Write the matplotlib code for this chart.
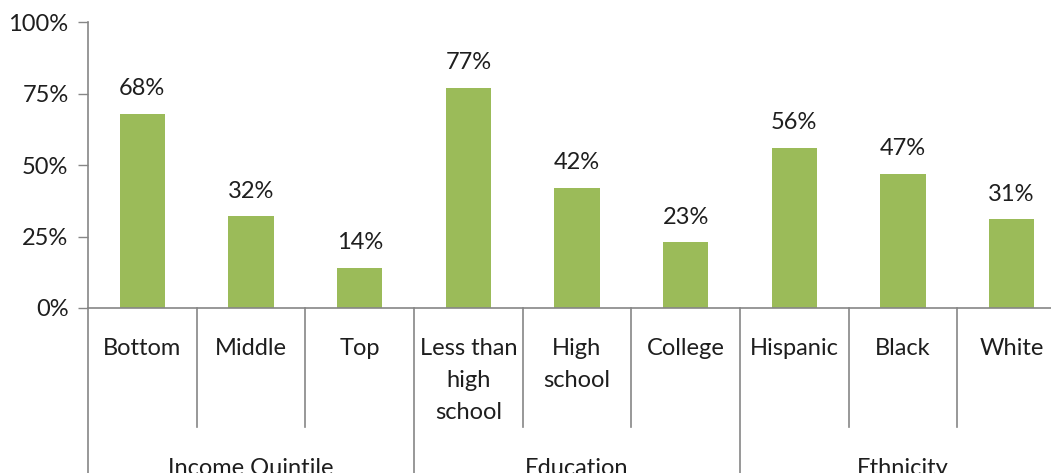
import matplotlib
matplotlib.use("Agg")
import matplotlib.pyplot as plt
from matplotlib.transforms import blended_transform_factory

categories = ["Bottom", "Middle", "Top", "Less than\nhigh\nschool", "High\nschool",
              "College", "Hispanic", "Black", "White"]
values = [68, 32, 14, 77, 42, 23, 56, 47, 31]
value_labels = ["68%", "32%", "14%", "77%", "42%", "23%", "56%", "47%", "31%"]
groups = ["Income Quintile", "Education", "Ethnicity"]
group_sizes = [3, 3, 3]
yticks = [0, 25, 50, 75, 100]
ytick_labels = ["0%", "25%", "50%", "75%", "100%"]

plt.rcParams['font.family'] = ['Lato', 'DejaVu Sans']
FS = 17
TXT = '#1e1e1e'
AX = '#868686'
BAR = '#9BBB59'

fig = plt.figure(figsize=(10.51, 4.73), dpi=100)
ax = fig.add_axes([88/1051, 165/473, 978/1051, 286/473])

x = list(range(len(categories)))
ax.bar(x, values, width=0.42, color=BAR, zorder=2)
ax.set_xlim(-0.5, len(categories) - 0.5)
ax.set_ylim(0, 100)

for xi, v, lab in zip(x, values, value_labels):
    ax.annotate(lab, (xi, v), xytext=(0, 18), textcoords='offset points',
                ha='center', va='center', fontsize=FS, color=TXT)

ax.set_yticks(yticks)
ax.set_yticklabels(ytick_labels, fontsize=FS, color=TXT)
ax.tick_params(axis='y', direction='out', length=7, width=1, color=AX, pad=7)
ax.set_xticks([])

for s in ['top', 'right']:
    ax.spines[s].set_visible(False)
for s in ['left', 'bottom']:
    ax.spines[s].set_color(AX)
    ax.spines[s].set_linewidth(1.2)

trans = blended_transform_factory(ax.transData, ax.transAxes)

# category labels
for xi, c in zip(x, categories):
    ax.text(xi, -0.104, c, transform=trans, ha='center', va='top',
            fontsize=FS, color=TXT, linespacing=1.65)

# separators
boundaries = [-0.5]
acc = -0.5
for g in group_sizes:
    acc += g
    boundaries.append(acc)
for b in [i - 0.5 for i in range(len(categories) + 1)]:
    if b in boundaries:
        ax.plot([b, b], [0, -0.7], transform=trans, color=AX, lw=1.2, clip_on=False)
    else:
        ax.plot([b, b], [0, -0.416], transform=trans, color=AX, lw=1.2, clip_on=False)

# group labels
start = 0
for g, n in zip(groups, group_sizes):
    center = start + (n - 1) / 2
    ax.text(center, -0.56, g, transform=trans, ha='center', va='center',
            fontsize=FS, color=TXT)
    start += n

fig.savefig("out.png", dpi=100)
